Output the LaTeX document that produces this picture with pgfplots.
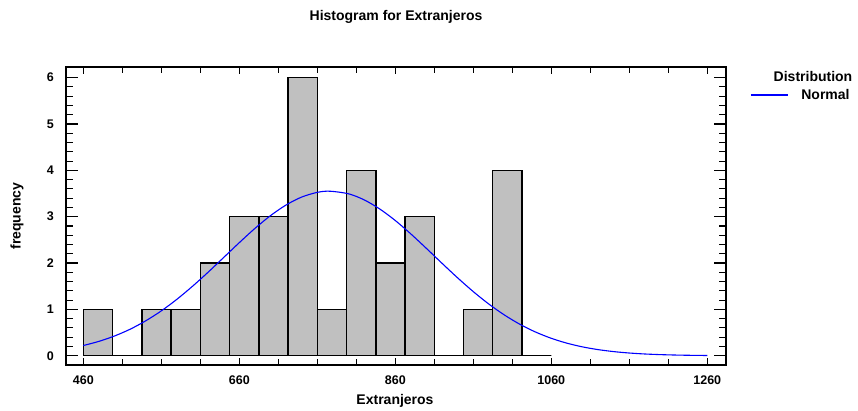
\documentclass[border=0pt]{standalone}
\usepackage{fontspec}
\setmainfont{Liberation Sans}
\usepackage{pgfplots}
\pgfplotsset{compat=1.18}
\definecolor{bargray}{RGB}{192,192,192}
\begin{document}
\begin{tikzpicture}[x=1pt,y=1pt]
\useasboundingbox (0,0) rectangle (858,410);
\begin{axis}[
  at={(66pt,45pt)}, anchor=south west,
  scale only axis, width=660pt, height=298pt,
  xmin=437.8, xmax=1284, ymin=-0.2, ymax=6.23,
  xtick={460,660,860,1060,1260},
  ytick={0,1,2,3,4,5,6},
  minor x tick num=3, minor y tick num=4,
  tick align=inside,
  axis line style={line width=1.8pt},
  tick style={black, line width=1.1pt},
  xtick style={/pgfplots/major tick length=7pt, /pgfplots/minor tick length=6pt},
  ytick style={/pgfplots/major tick length=12pt, /pgfplots/minor tick length=7pt},
  /pgf/number format/assume math mode=true,
  /pgf/number format/1000 sep={},
  ticklabel style={font=\fontsize{12.5}{14}\selectfont\bfseries},
  xticklabel style={inner sep=0pt, yshift=-11pt},
  yticklabel style={inner sep=0pt, xshift=-12pt},
  legend style={at={(1.0364,0.906)}, anchor=west, draw=none, fill=none,
    inner sep=0pt, nodes={inner sep=0pt, font=\fontsize{14}{16}\selectfont\bfseries}},
  legend image code/.code={\draw[#1] (0pt,0pt) -- (37pt,0pt); \path (50pt,0pt);},
  clip=false,
]
\addplot[ybar interval, fill=bargray, draw=black, line width=1.4pt, forget plot] coordinates {
(460,1)(497.5,0)(535,1)(572.5,1)(610,2)(647.5,3)(685,3)(722.5,6)(760,1)(797.5,4)(835,2)(872.5,3)(910,0)(947.5,1)(985,4)(1022.5,0)(1060,0)};
\addplot[black, line width=1.4pt, forget plot] coordinates {(460,0)(1060,0)};
\addplot[blue, line width=1.1pt, smooth] coordinates {
(460,0.220)(480,0.310)(500,0.426)(520,0.572)(540,0.753)(560,0.968)(580,1.218)(600,1.499)(620,1.802)(640,2.121)(660,2.440)(680,2.747)(700,3.023)(720,3.253)(740,3.424)(760,3.525)(776,3.550)(800,3.494)(820,3.364)(840,3.167)(860,2.917)(880,2.627)(900,2.314)(920,1.993)(940,1.679)(960,1.383)(980,1.114)(1000,0.878)(1020,0.676)(1040,0.510)(1060,0.376)(1080,0.271)(1100,0.191)(1120,0.132)(1140,0.089)(1160,0.0585)(1180,0.0377)(1200,0.0238)(1220,0.0147)(1240,0.0088)(1260,0.0052)};
\addlegendentry{Normal}
\end{axis}
\node[font=\fontsize{14}{16}\selectfont\bfseries] at (396,393) {Histogram for Extranjeros};
\node[font=\fontsize{14}{16}\selectfont\bfseries] at (395,9) {Extranjeros};
\node[font=\fontsize{14}{16}\selectfont\bfseries, rotate=90] at (17,194) {frequency};
\node[font=\fontsize{14}{16}\selectfont\bfseries] at (813,334) {Distribution};
\end{tikzpicture}
\end{document}
